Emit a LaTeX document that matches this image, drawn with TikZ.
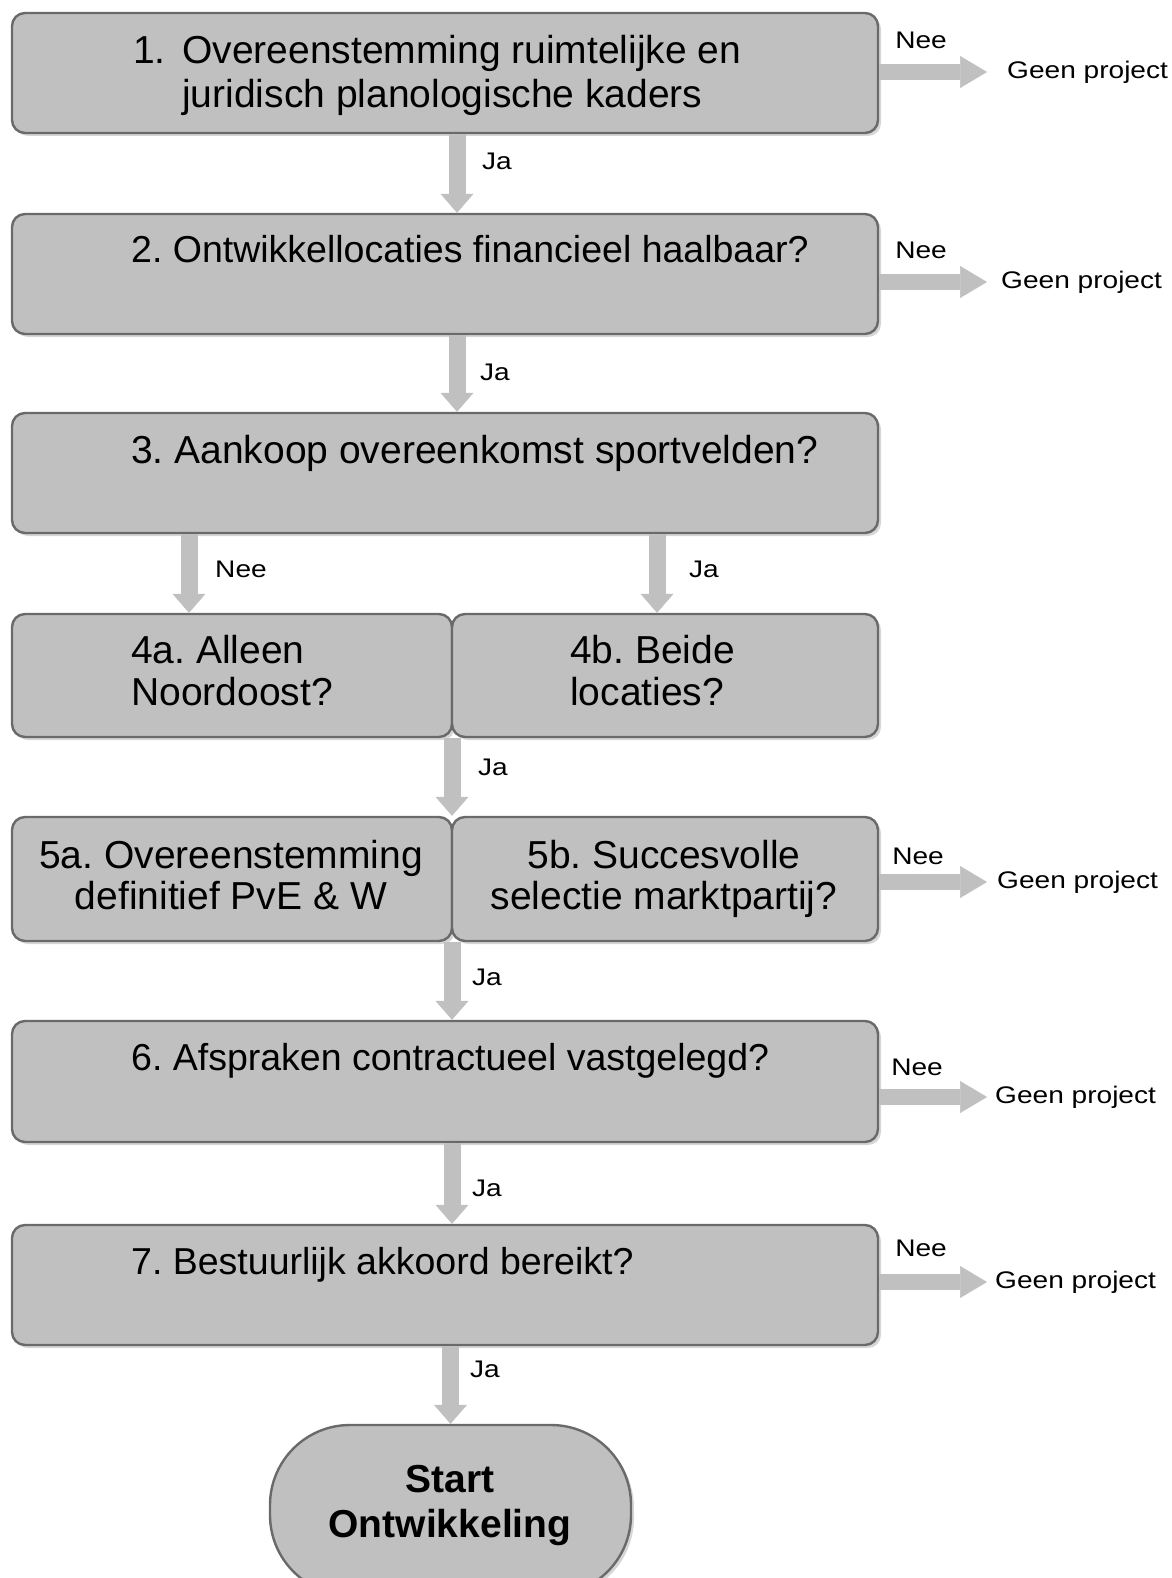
\documentclass[tikz,border=0pt]{standalone}
\usepackage{fontspec}
\setmainfont{Liberation Sans}
\usetikzlibrary{arrows.meta,shadows}
\definecolor{boxfill}{HTML}{C0C0C0}
\definecolor{boxline}{HTML}{6A6A6A}
\definecolor{arrowgray}{HTML}{C0C0C0}
\definecolor{shadowgray}{HTML}{D6D6D6}
\frenchspacing
\tikzset{
  stepbox/.style={rectangle, rounded corners=13pt, draw=boxline, line width=2.4pt,
    fill=boxfill, inner sep=0pt, outer sep=0pt,
    drop shadow={shadow xshift=3pt, shadow yshift=-3pt, fill=shadowgray, opacity=1}},
  startbox/.style={stepbox, rounded corners=80pt},
  bigtxt/.style={font=\fontsize{39}{43}\selectfont, inner sep=0pt, anchor=base west},
  midtxt/.style={font=\fontsize{37.5}{43}\selectfont, inner sep=0pt, anchor=base west},
  bigc/.style={font=\fontsize{39}{43}\selectfont, inner sep=0pt, anchor=base},
  bigb/.style={font=\fontsize{39}{43}\selectfont\bfseries, inner sep=0pt, anchor=base},
  smalltxt/.style={font=\fontsize{24}{28}\selectfont, inner sep=0pt},
  varrow/.style={draw=arrowgray, line width=17pt,
    -{Triangle[width=33pt,length=19pt,line width=0.5pt]},
    shorten <=1.2pt, shorten >=1.2pt},
  harrow/.style={draw=arrowgray, line width=16pt,
    -{Triangle[width=32pt,length=27pt,line width=0.5pt]},
    shorten <=1.2pt, shorten >=#1}
}
\newcommand{\wide}[1]{\scalebox{1.17}[1]{#1}}
\begin{document}
\begin{tikzpicture}[x=1pt,y=-1pt]
\useasboundingbox (0,0) rectangle (1171,1578);
\clip (0,0) rectangle (1171,1578);

% boxes
\node[stepbox, minimum width=866pt, minimum height=120pt] (b1) at (445,73) {};
\node[stepbox, minimum width=866pt, minimum height=120pt] (b2) at (445,274) {};
\node[stepbox, minimum width=866pt, minimum height=120pt] (b3) at (445,473) {};
\node[stepbox, minimum width=440pt, minimum height=123pt] (b4a) at (232,675.5) {};
\node[stepbox, minimum width=426pt, minimum height=123pt] (b4b) at (665,675.5) {};
\node[stepbox, minimum width=440pt, minimum height=124pt] (b5a) at (232,879) {};
\node[stepbox, minimum width=426pt, minimum height=124pt] (b5b) at (665,879) {};
\node[stepbox, minimum width=866pt, minimum height=121pt] (b6) at (445,1081.5) {};
\node[stepbox, minimum width=866pt, minimum height=120pt] (b7) at (445,1285) {};
\node[startbox, minimum width=361pt, minimum height=170pt] (st) at (450.5,1510) {};

% box texts
\node[bigtxt] (t1a) at (133,64) {1.};
\node[bigtxt] (t1b) at (182,64) {Overeenstemming ruimtelijke en};
\node[bigtxt] (t1c) at (182,108) {juridisch planologische kaders};
\node[midtxt] (t2) at (131,263) {2. Ontwikkellocaties financieel haalbaar?};
\node[bigtxt] (t3) at (131,463) {3. Aankoop overeenkomst sportvelden?};
\node[bigtxt] (t4a1) at (131,663) {4a. Alleen};
\node[bigtxt] (t4a2) at (131,705) {Noordoost?};
\node[bigtxt] (t4b1) at (570,663) {4b. Beide};
\node[bigtxt] (t4b2) at (570,705) {locaties?};
\node[bigc] (t5a1) at (231,868) {5a. Overeenstemming};
\node[bigc] (t5a2) at (231,909) {definitief PvE \& W};
\node[bigc] (t5b1) at (664,868) {5b. Succesvolle};
\node[bigc] (t5b2) at (664,909) {selectie marktpartij?};
\node[midtxt] (t6) at (131,1070) {6. Afspraken contractueel vastgelegd?};
\node[midtxt] (t7) at (131,1274) {7. Bestuurlijk akkoord bereikt?};
\node[bigb] (ts1) at (450,1492) {Start};
\node[bigb] (ts2) at (450,1537) {Ontwikkeling};

% "Geen project" nodes
\node[smalltxt, anchor=west] (g1) at (1007,72) {\wide{Geen project}};
\node[smalltxt, anchor=west] (g2) at (1001,282) {\wide{Geen project}};
\node[smalltxt, anchor=west] (g5) at (997,882) {\wide{Geen project}};
\node[smalltxt, anchor=west] (g6) at (995,1097) {\wide{Geen project}};
\node[smalltxt, anchor=west] (g7) at (995,1282) {\wide{Geen project}};

% vertical arrows
\draw[varrow] ([xshift=12pt]b1.south) -- ([xshift=12pt]b2.north);
\draw[varrow] ([xshift=12pt]b2.south) -- ([xshift=12pt]b3.north);
\draw[varrow] ([xshift=-43pt]b4a.north |- b3.south) -- ([xshift=-43pt]b4a.north);
\draw[varrow] ([xshift=-8pt]b4b.north |- b3.south) -- ([xshift=-8pt]b4b.north);
\draw[varrow] (b4a.south east) -- (b5a.north east);
\draw[varrow] (b5a.south east) -- (b5a.south east |- b6.north);
\draw[varrow] (b6.south -| b5a.south east) -- (b7.north -| b5a.south east);
\draw[varrow] (b7.south -| st.north) -- (st.north);

% horizontal arrows
\draw[harrow=20pt] (b1.east |- g1.west) -- (g1.west);
\draw[harrow=14pt] (b2.east |- g2.west) -- (g2.west);
\draw[harrow=10pt] (b5b.east |- g5.west) -- (g5.west);
\draw[harrow=8pt] (b6.east |- g6.west) -- (g6.west);
\draw[harrow=8pt] (b7.east |- g7.west) -- (g7.west);

% labels
\node[smalltxt] (j1) at (497,161) {\wide{Ja}};
\node[smalltxt] (j2) at (495,372) {\wide{Ja}};
\node[smalltxt] (n3) at (241,569) {\wide{Nee}};
\node[smalltxt] (j3) at (704,569) {\wide{Ja}};
\node[smalltxt] (j4) at (493,767) {\wide{Ja}};
\node[smalltxt] (j5) at (487,977) {\wide{Ja}};
\node[smalltxt] (j6) at (487,1188) {\wide{Ja}};
\node[smalltxt] (j7) at (485,1369) {\wide{Ja}};
\node[smalltxt] (n1) at (921,40) {\wide{Nee}};
\node[smalltxt] (n2) at (921,250) {\wide{Nee}};
\node[smalltxt] (n5) at (918,856) {\wide{Nee}};
\node[smalltxt] (n6) at (917,1067) {\wide{Nee}};
\node[smalltxt] (n7) at (921,1248) {\wide{Nee}};
\end{tikzpicture}
\end{document}
